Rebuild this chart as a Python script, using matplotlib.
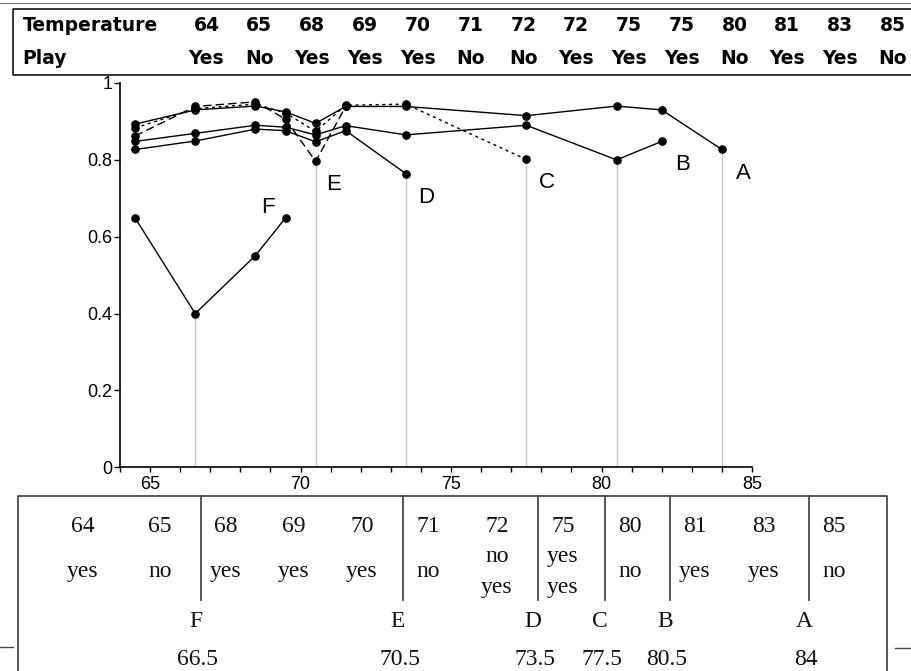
import matplotlib
matplotlib.use("Agg")
import matplotlib.pyplot as plt
from matplotlib.ticker import MultipleLocator

# weather data: temperature attribute and class
temperature = [64, 65, 68, 69, 70, 71, 72, 72, 75, 75, 80, 81, 83, 85]
play = ["Yes", "No", "Yes", "Yes", "Yes", "No", "No", "Yes", "Yes", "Yes", "No", "Yes", "Yes", "No"]

# candidate split points
splits = [64.5, 66.5, 68.5, 69.5, 70.5, 71.5, 73.5, 77.5, 80.5, 82, 84]

# information value (bits) at each split, one curve per discretization step
info_a = [0.893, 0.930, 0.940, 0.925, 0.895, 0.939, 0.939, 0.915, 0.940, 0.930, 0.827]
info_b = [0.848, 0.869, 0.890, 0.885, 0.865, 0.889, 0.865, 0.890, 0.800, 0.848]
info_c = [0.883, 0.933, 0.945, 0.922, 0.874, 0.942, 0.945, 0.801]
info_d = [0.827, 0.849, 0.880, 0.876, 0.847, 0.876, 0.764]
info_e = [0.862, 0.939, 0.951, 0.906, 0.796, 0.939]
info_f = [0.649, 0.400, 0.551, 0.649]

names = ["A", "B", "C", "D", "E", "F"]
curves = [info_a, info_b, info_c, info_d, info_e, info_f]
styles = ["-", "-", (0, (2.2, 2.6)), "-", (0, (6, 3)), "-"]
# where each curve's letter sits, relative to its minimum
label_off = [(0.7, -0.062), (2.2, -0.013), (0.69, -0.06), (0.67, -0.062), (0.58, -0.061), (2.4, 0.275)]

W, H = 912, 671
fig = plt.figure(figsize=(W / 100, H / 100), dpi=100)

# pixel-space layer for the two tables
deco = fig.add_axes([0, 0, 1, 1], zorder=0)
deco.set_xlim(0, W)
deco.set_ylim(H, 0)
deco.axis("off")

ax = fig.add_axes([120 / W, 1 - 467.3 / H, (752 - 120) / W, (467.3 - 83) / H], zorder=1)
ax.patch.set_alpha(0)

sans = "Liberation Sans"
serif = "Liberation Serif"

for name, vals, ls, (dx, dy) in zip(names, curves, styles, label_off):
    xs = splits[:len(vals)]
    i = vals.index(min(vals))
    ax.vlines(xs[i], 0, vals[i], color="#c6c6c6", lw=1.0, zorder=1)
    ax.plot(xs, vals, color="black", lw=1.0, ls=ls, marker="o", ms=5.2, zorder=3)
    ax.text(xs[i] + dx, vals[i] + dy, name, ha="center", va="center",
            fontsize=16, family=sans)

ax.set_xlim(64, 85)
ax.set_ylim(0, 1)
ax.xaxis.set_major_locator(MultipleLocator(5))
ax.xaxis.set_minor_locator(MultipleLocator(1))
ax.yaxis.set_major_locator(MultipleLocator(0.2))
ax.yaxis.set_major_formatter(plt.FuncFormatter(lambda v, p: "%g" % round(v, 1)))
for s in ["top", "right"]:
    ax.spines[s].set_visible(False)
for s in ["left", "bottom"]:
    ax.spines[s].set_linewidth(1.2)
ax.tick_params(which="both", direction="out", length=3.5, width=1.0, pad=2.5)
ax.tick_params(axis="y", length=4, pad=1.5)
for lab in ax.get_xticklabels() + ax.get_yticklabels():
    lab.set_family(sans)
    lab.set_fontsize(13)

# top table
deco.plot([0, W], [2.5, 2.5], color="#777777", lw=0.8)
deco.plot([W + 5, 12.7, 12.7, W + 5], [8.7, 8.7, 75, 75], color="black", lw=1.1, clip_on=False)
tkw = dict(fontsize=13.5, fontweight="bold", family="DejaVu Sans", va="baseline")
deco.text(22.7, 31, "Temperature", ha="left", **tkw)
deco.text(22.7, 64.5, "Play", ha="left", **tkw)
for k, (t, p) in enumerate(zip(temperature, play)):
    cx = 206.5 + k * 52.8
    deco.text(cx, 31, str(t), ha="center", **tkw)
    deco.text(cx, 64.5, p, ha="center", **tkw)

# bottom table: one column per distinct temperature
values = sorted(set(temperature))
groups = [[p.lower() for t, p in zip(temperature, play) if t == v] for v in values]
col_x = [83, 160, 226, 294, 362, 428, 497, 563, 630, 695, 764, 834]

edge = "#4a4a4a"
deco.plot([18.3, 18.3, 887, 887], [H + 5, 495.7, 495.7, H + 5], color=edge, lw=1.3)
deco.plot([0, 13], [646.7, 646.7], color=edge, lw=1.0)
deco.plot([894.7, W], [648, 648], color=edge, lw=1.0)

bkw = dict(fontsize=17, family=serif, ha="center", va="baseline", color="#111111")
for cx, v, g in zip(col_x, values, groups):
    deco.text(cx, 531.7, str(v), **bkw)
    if len(g) == 1:
        deco.text(cx, 576.7, g[0], **bkw)
    else:
        deco.text(cx, 561.7, g[0], **bkw)
        deco.text(cx, 593.3, g[1], **bkw)

for name, vals in zip(names, curves):
    cut = splits[vals.index(min(vals))]
    j = next(k for k, v in enumerate(values) if v > cut)
    sx = col_x[j] - 25
    deco.plot([sx, sx], [495.7, 600], color=edge, lw=1.3)
    deco.text(sx - 5, 626.7, name, **bkw)
    deco.text(sx - 3, 665, "%g" % cut, **bkw)

fig.savefig("out.png", dpi=100)
